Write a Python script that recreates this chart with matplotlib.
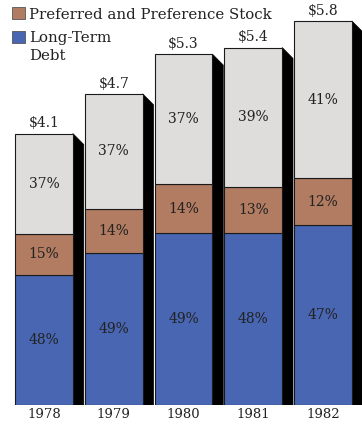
import numpy as np
import matplotlib.pyplot as plt
from matplotlib.patches import Polygon, Rectangle

years = ['1978', '1979', '1980', '1981', '1982']
totals = [4.1, 4.7, 5.3, 5.4, 5.8]          # $ billions
debt_pct = [48, 49, 49, 48, 47]
pref_pct = [15, 14, 14, 13, 12]
common_pct = [37, 37, 37, 39, 41]

blue = '#4866b2'
brown = '#b27c62'
grey = '#dedddb'
font = 'DejaVu Serif'

plt.rcParams['font.family'] = font

fig = plt.figure(figsize=(3.62, 4.24), dpi=100)
ax = fig.add_axes([0, 19 / 424, 1, 405 / 424])

x = np.arange(len(years))
totals = np.array(totals)
debt = totals * np.array(debt_pct) / 100
pref = totals * np.array(pref_pct) / 100
common = totals * np.array(common_pct) / 100

width = 0.83
# drop shadow on the right side of each bar
dx, dy = 0.155, 0.165
for xi, t in zip(x, totals):
    r = xi + width / 2
    ax.add_patch(Polygon([(r, t), (r + dx, t - dy), (r + dx, 0), (r, 0)],
                         closed=True, facecolor='black', edgecolor='black',
                         linewidth=0.5, zorder=1))

ax.bar(x, debt, width, color=blue, edgecolor='#1a1a1a', linewidth=0.8, zorder=2)
ax.bar(x, pref, width, bottom=debt, color=brown, edgecolor='#1a1a1a',
       linewidth=0.8, zorder=2)
ax.bar(x, common, width, bottom=debt + pref, color=grey, edgecolor='#1a1a1a',
       linewidth=0.8, zorder=2)

fs = 10
for i in range(len(x)):
    ax.text(x[i], debt[i] / 2, f'{debt_pct[i]}%', ha='center', va='center',
            fontsize=fs, color='#222222', zorder=3)
    ax.text(x[i], debt[i] + pref[i] / 2, f'{pref_pct[i]}%', ha='center',
            va='center', fontsize=fs, color='#222222', zorder=3)
    ax.text(x[i], debt[i] + pref[i] + common[i] / 2, f'{common_pct[i]}%',
            ha='center', va='center', fontsize=fs, color='#222222', zorder=3)
    ax.annotate(f'${totals[i]:.1f}', (x[i], totals[i]), xytext=(0, 4.5),
                textcoords='offset points', ha='center', va='baseline',
                fontsize=fs, color='#222222')

ax.set_xlim(-44 / 69.75, (362 - 44) / 69.75)
ax.set_ylim(0, 405 / 66.2)
ax.set_xticks(x, years)
ax.tick_params(axis='x', length=0, pad=2.5, labelsize=9.5, labelcolor='#222222')
ax.set_yticks([])
for s in ax.spines.values():
    s.set_visible(False)

# legend
def px(xp, yp):
    return xp / 362, 1 - yp / 424

fig.patches.append(Rectangle(px(12, 19), 13 / 362, 12 / 424, transform=fig.transFigure,
                             facecolor=brown, edgecolor='#555555', linewidth=0.6))
fig.patches.append(Rectangle(px(12, 43), 13 / 362, 12 / 424, transform=fig.transFigure,
                             facecolor=blue, edgecolor='#555555', linewidth=0.6))
fig.text(*px(29, 19), 'Preferred and Preference Stock', fontsize=10.8,
         va='baseline', ha='left', color='#222222')
fig.text(*px(29, 42), 'Long-Term', fontsize=10.8, va='baseline', ha='left',
         color='#222222')
fig.text(*px(29, 60), 'Debt', fontsize=10.8, va='baseline', ha='left',
         color='#222222')

fig.savefig('out.png', dpi=100)
